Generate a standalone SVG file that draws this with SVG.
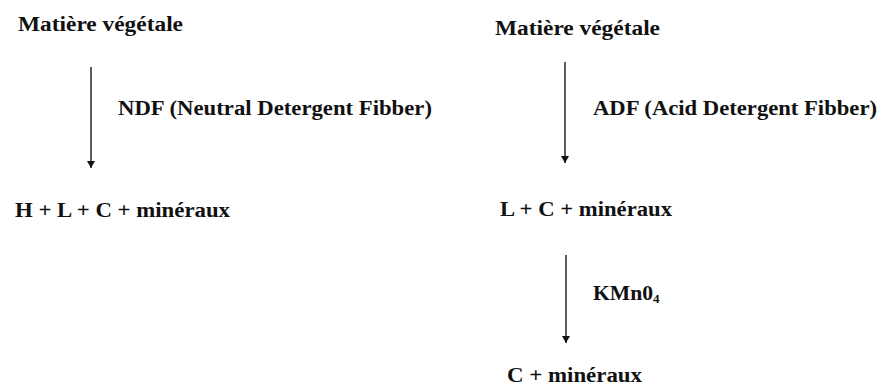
<svg xmlns="http://www.w3.org/2000/svg" width="879" height="387" viewBox="0 0 879 387">
<style>
text{font-family:"Liberation Serif","Times New Roman",serif;font-weight:bold;font-size:20px;fill:#111}
.c{stroke:#333;stroke-width:1.6;fill:none}
</style>
<defs>
<marker id="ah" markerUnits="userSpaceOnUse" markerWidth="10" markerHeight="10" viewBox="0 0 10 10" refX="9" refY="5" orient="auto">
<path d="M2,1 L2,9 L9,5 Z" fill="#111"/>
</marker>
</defs>
<rect width="879" height="387" fill="#fff"/>
<g id="connectors">
<line class="c" x1="91" y1="67" x2="91" y2="168" marker-end="url(#ah)"/>
<line class="c" x1="565" y1="62" x2="565" y2="163" marker-end="url(#ah)"/>
<line class="c" x1="566" y1="255" x2="566" y2="343" marker-end="url(#ah)"/>
</g>
<g id="node-left-top"><text x="18" y="31" textLength="165" lengthAdjust="spacingAndGlyphs">Matière végétale</text></g>
<g id="label-ndf"><text x="118" y="115" textLength="314" lengthAdjust="spacingAndGlyphs">NDF (Neutral Detergent Fibber)</text></g>
<g id="node-left-bottom"><text x="15" y="217" textLength="215" lengthAdjust="spacingAndGlyphs">H + L + C + minéraux</text></g>
<g id="node-right-top"><text x="495" y="35" textLength="165" lengthAdjust="spacingAndGlyphs">Matière végétale</text></g>
<g id="label-adf"><text x="593" y="115" textLength="284" lengthAdjust="spacingAndGlyphs">ADF (Acid Detergent Fibber)</text></g>
<g id="node-right-mid"><text x="500" y="216" textLength="172" lengthAdjust="spacingAndGlyphs">L + C + minéraux</text></g>
<g id="label-kmno4"><text x="593" y="300"><tspan textLength="60" lengthAdjust="spacingAndGlyphs">KMn0</tspan><tspan font-size="13" dy="3">4</tspan></text></g>
<g id="node-right-bottom"><text x="507" y="382" textLength="135" lengthAdjust="spacingAndGlyphs">C + minéraux</text></g>
</svg>
